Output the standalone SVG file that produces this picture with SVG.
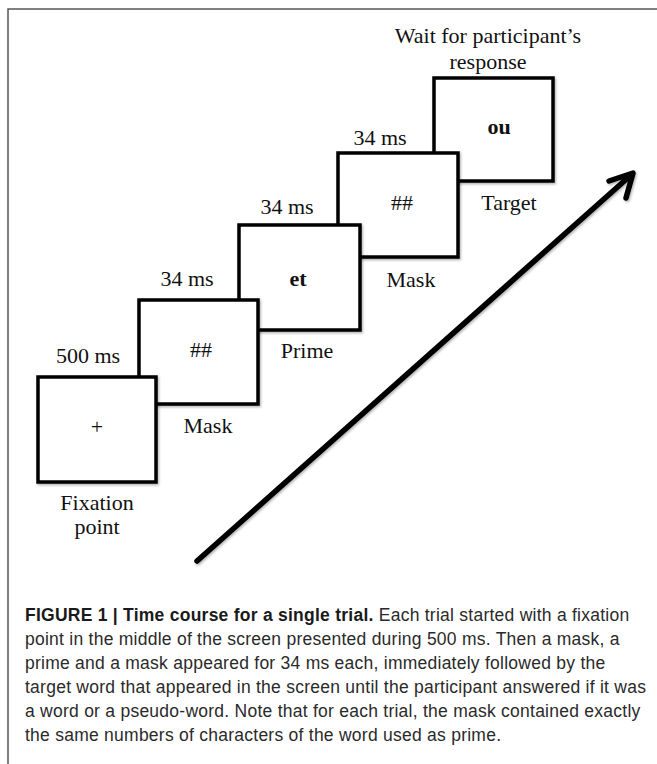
<svg xmlns="http://www.w3.org/2000/svg" width="657" height="764" viewBox="0 0 657 764">
<style>
.box{fill:#fff;stroke:#000;stroke-width:3.5;filter:url(#sh)}
.t{font-family:"Liberation Serif","Times New Roman",serif;font-size:22px;fill:#111;text-anchor:middle}
.b{font-weight:bold}
.cap{font-family:"Liberation Sans",Arial,sans-serif;font-size:17.5px;letter-spacing:0.25px;fill:#2a2a2a}
.capb{font-weight:bold;fill:#1a1a1a}
.arr{fill:none;stroke:#000;stroke-width:5.5;stroke-linecap:round;stroke-linejoin:round;filter:url(#sh)}
</style>
<defs>
<filter id="sh" x="-20%" y="-20%" width="140%" height="140%">
<feDropShadow dx="1.2" dy="1.5" stdDeviation="1" flood-color="#000" flood-opacity="0.3"/>
</filter>
</defs>
<rect width="657" height="764" fill="#fff"/>
<path d="M8,764 V9 H657" fill="none" stroke="#555" stroke-width="1.5"/>
<text class="t" x="488" y="43">Wait for participant’s</text>
<text class="t" x="488" y="69">response</text>
<g id="target">
<rect class="box" x="434" y="78" width="119" height="103"/>
<text class="t b" x="499" y="134">ou</text>
<text class="t" x="509" y="210">Target</text>
</g>
<g id="mask2">
<rect class="box" x="338" y="153" width="120" height="104"/>
<text class="t" x="380" y="145">34 ms</text>
<text class="t" x="402" y="210">##</text>
<text class="t" x="411" y="287">Mask</text>
</g>
<g id="prime">
<rect class="box" x="239" y="225" width="121" height="105"/>
<text class="t" x="287" y="214">34 ms</text>
<text class="t b" x="298" y="286">et</text>
<text class="t" x="307" y="358">Prime</text>
</g>
<g id="mask1">
<rect class="box" x="139" y="300" width="119" height="104"/>
<text class="t" x="187" y="286">34 ms</text>
<text class="t" x="201" y="357">##</text>
<text class="t" x="208" y="433">Mask</text>
</g>
<g id="fixation">
<rect class="box" x="38" y="377" width="118" height="105"/>
<text class="t" x="88" y="363">500 ms</text>
<text class="t" x="97" y="434">+</text>
<text class="t" x="97" y="510">Fixation</text>
<text class="t" x="97" y="534">point</text>
</g>
<g id="connectors">
<path class="arr" d="M197,561 L631,175 M609,181 L633,173 L626,198"/>
</g>
<g id="caption">
<text class="cap" x="25" y="621"><tspan class="capb">FIGURE 1 | Time course for a single trial.</tspan> Each trial started with a fixation</text>
<text class="cap" x="25" y="645">point in the middle of the screen presented during 500 ms. Then a mask, a</text>
<text class="cap" x="25" y="669">prime and a mask appeared for 34 ms each, immediately followed by the</text>
<text class="cap" x="25" y="693">target word that appeared in the screen until the participant answered if it was</text>
<text class="cap" x="25" y="717">a word or a pseudo-word. Note that for each trial, the mask contained exactly</text>
<text class="cap" x="25" y="741">the same numbers of characters of the word used as prime.</text>
</g>
</svg>
